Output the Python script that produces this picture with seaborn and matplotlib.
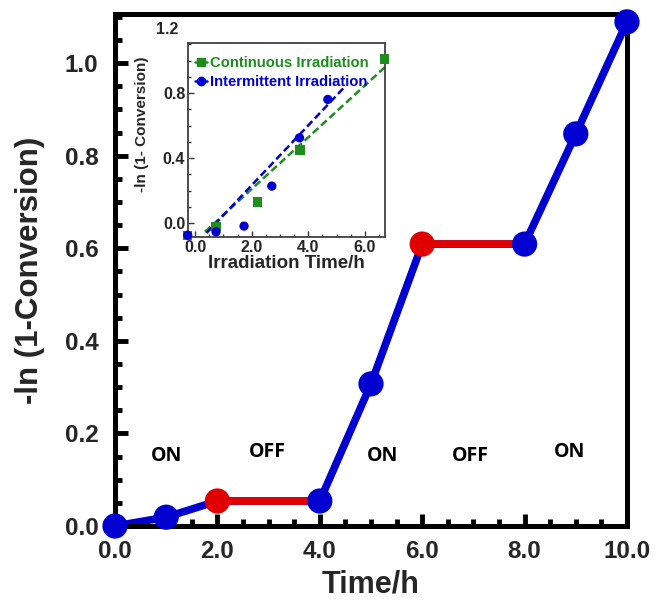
import numpy as np
import pandas as pd
import matplotlib
matplotlib.use("Agg")
import matplotlib.pyplot as plt
import seaborn as sns
from matplotlib.lines import Line2D
from matplotlib.ticker import MultipleLocator, FormatStrFormatter

# ---------------- data ----------------
time_h = [0, 1, 2, 4, 5, 6, 8, 9, 10]
neg_ln = [0.0, 0.019, 0.054, 0.054, 0.307, 0.609, 0.609, 0.847, 1.089]
phase = ["ON", "ON", "OFF", "ON", "ON", "OFF", "ON", "ON", "ON"]  # OFF = start of dark period

on_off_labels = ["ON", "OFF", "ON", "OFF", "ON"]
on_off_x = [1.0, 2.97, 5.22, 6.95, 8.88]
on_off_y = [0.152, 0.160, 0.152, 0.152, 0.160]

# inset data
cont_x = [-0.26, 0.74, 2.2, 3.71, 6.69]
cont_y = [-0.074, -0.02, 0.13, 0.45, 1.01]
inter_x = [-0.26, 0.74, 1.73, 2.71, 3.69, 4.69]
inter_y = [-0.074, -0.053, -0.018, 0.228, 0.525, 0.761]
cont_fit_x = [0.35, 6.71]
cont_fit_y = [-0.053, 0.96]
inter_fit_x = [0.41, 5.24]
inter_fit_y = [-0.06, 0.83]

BLUE = "#0000D0"
RED = "#E00000"
GREEN = "#1E8C1E"

sns.set_theme(style="white")
plt.rcParams["font.family"] = ["Liberation Sans", "DejaVu Sans"]
plt.rcParams["font.weight"] = "bold"

fig = plt.figure(figsize=(6.56, 6.12), dpi=100)
ax = fig.add_axes([115/656, 86/612, 512/656, 512/612])

df = pd.DataFrame({"t": time_h, "v": neg_ln, "phase": phase})
sns.lineplot(data=df, x="t", y="v", ax=ax, color=BLUE, lw=5.5, sort=False,
             estimator=None, zorder=2)
for i, p in enumerate(phase):
    if p == "OFF" and i + 1 < len(time_h):
        seg = df.iloc[[i, i + 1]]
        sns.lineplot(data=seg, x="t", y="v", ax=ax, color=RED, lw=5.5,
                     sort=False, estimator=None, zorder=3)
sns.scatterplot(data=df, x="t", y="v", hue="phase", palette={"ON": BLUE, "OFF": RED},
                s=330, edgecolor="none", ax=ax, legend=False, zorder=4, clip_on=False)

for lab, x, y in zip(on_off_labels, on_off_x, on_off_y):
    ax.text(x, y, lab, ha="center", va="center", fontsize=14, fontweight="bold",
            family=["Open Sans", "DejaVu Sans"], color="black")

ax.set_xlim(0, 10)
ax.set_ylim(0, 1.106)
ax.xaxis.set_major_locator(MultipleLocator(2))
ax.xaxis.set_minor_locator(MultipleLocator(0.5))
ax.yaxis.set_major_locator(MultipleLocator(0.2))
ax.yaxis.set_minor_locator(MultipleLocator(0.05))
ax.xaxis.set_major_formatter(FormatStrFormatter("%.1f"))
ax.yaxis.set_major_formatter(FormatStrFormatter("%.1f"))
ax.tick_params(axis="both", which="both", direction="in", top=False, right=False,
               bottom=True, left=True, color="black", width=3.5)
ax.tick_params(axis="y", which="major", length=9, labelsize=17.5, pad=12)
ax.tick_params(axis="x", which="major", length=9, labelsize=17.5, pad=10)
ax.tick_params(axis="both", which="minor", length=5)
for lab in ax.get_xticklabels() + ax.get_yticklabels():
    lab.set_fontweight("bold")
for sp in ax.spines.values():
    sp.set_linewidth(3.6)
    sp.set_color("black")
ax.set_xlabel("Time/h", fontsize=22, fontweight="bold", labelpad=5)
ax.set_ylabel("-ln (1-Conversion)", fontsize=22.5, fontweight="bold", labelpad=14)

# ---------------- inset ----------------
ins = fig.add_axes([188/656, 375/612, 197/656, 194/612])
ins.set_facecolor("white")
sns.lineplot(x=cont_fit_x, y=cont_fit_y, ax=ins, color=GREEN, lw=1.8,
             linestyle=(0, (3, 1.5)), estimator=None, sort=False)
sns.lineplot(x=inter_fit_x, y=inter_fit_y, ax=ins, color=BLUE, lw=1.8,
             linestyle=(0, (3, 1.5)), estimator=None, sort=False)
sns.scatterplot(x=cont_x, y=cont_y, ax=ins, marker="s", s=45, color=GREEN,
                edgecolor="none", clip_on=False, zorder=3)
sns.scatterplot(x=inter_x, y=inter_y, ax=ins, marker="o", s=45, color=BLUE,
                edgecolor="none", clip_on=False, zorder=3)
ins.set_xlim(-0.25, 6.71)
ins.set_ylim(-0.085, 1.108)
ins.xaxis.set_major_locator(MultipleLocator(2))
ins.xaxis.set_minor_locator(MultipleLocator(0.5))
ins.yaxis.set_major_locator(MultipleLocator(0.4))
ins.yaxis.set_minor_locator(MultipleLocator(0.1))
ins.xaxis.set_major_formatter(FormatStrFormatter("%.1f"))
ins.yaxis.set_major_formatter(FormatStrFormatter("%.1f"))
ins.tick_params(axis="both", which="both", direction="in", top=False, right=False,
                bottom=True, left=True, color="#333333", width=1)
ins.tick_params(axis="both", which="major", length=4, labelsize=11.5, pad=2)
ins.tick_params(axis="both", which="minor", length=2)
for lab in ins.get_xticklabels() + ins.get_yticklabels():
    lab.set_fontweight("bold")
ins.text(-0.05, 1.19, "1.2", transform=ins.get_yaxis_transform(), ha="right",
         va="center", fontsize=11.5, fontweight="bold", clip_on=False)
for sp in ins.spines.values():
    sp.set_linewidth(1.3)
    sp.set_color("#404040")
ins.set_xlabel("Irradiation Time/h", fontsize=13.5, fontweight="bold", labelpad=0)
ins.set_ylabel("-ln (1- Conversion)", fontsize=11, fontweight="bold")
ins.yaxis.set_label_coords(-0.2, 0.58)
ins.xaxis.set_label_coords(0.5, -0.095)

handles = [Line2D([], [], color=GREEN, marker="s", markersize=6, lw=1.8),
           Line2D([], [], color=BLUE, marker="o", markersize=6, lw=1.8)]
leg = ins.legend(handles, ["Continuous Irradiation", "Intermittent Irradiation"],
                 loc="upper left", frameon=False, fontsize=10.7, handlelength=0.8,
                 handletextpad=0.15, borderaxespad=0.1, labelspacing=0.3,
                 bbox_to_anchor=(0.0, 0.97))
for txt, c in zip(leg.get_texts(), [GREEN, BLUE]):
    txt.set_color(c)
    txt.set_fontweight("bold")

fig.savefig("out.png", dpi=100)
